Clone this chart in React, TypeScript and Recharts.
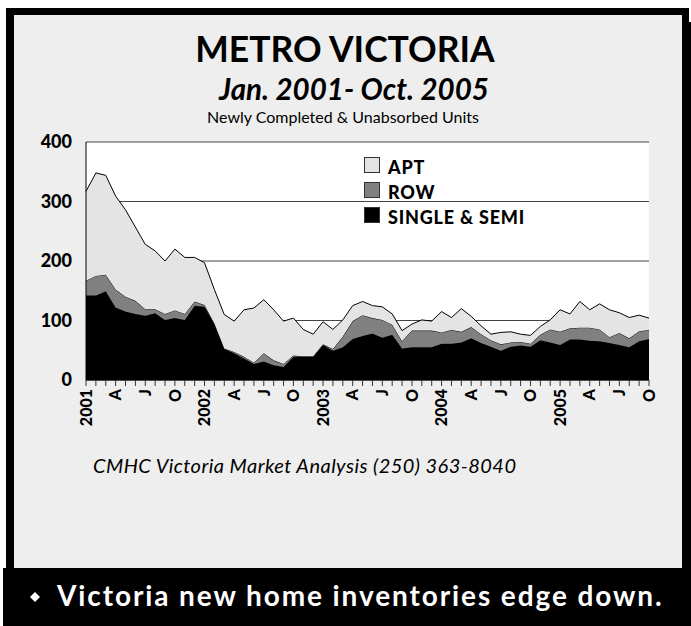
import React from "react";
import { AreaChart, Area, XAxis, YAxis, CartesianGrid } from "recharts";

// Monthly categories Jan 2001 - Oct 2005 (quarter labels shown on axis)
const categories = [
  "2001", "F", "M", "A", "M", "J", "J", "A", "S", "O", "N", "D",
  "2002", "F", "M", "A", "M", "J", "J", "A", "S", "O", "N", "D",
  "2003", "F", "M", "A", "M", "J", "J", "A", "S", "O", "N", "D",
  "2004", "F", "M", "A", "M", "J", "J", "A", "S", "O", "N", "D",
  "2005", "F", "M", "A", "M", "J", "J", "A", "S", "O",
];

const singleSemi = [
  142, 142, 149, 122, 115, 111, 108, 112, 101, 104,
  101, 125, 123, 94, 52, 45, 36, 27, 31, 25,
  22, 39, 39, 39, 59, 49, 55, 69, 74, 78,
  71, 76, 53, 55, 55, 55, 61, 61, 63, 70,
  62, 56, 49, 56, 58, 56, 67, 63, 59, 68,
  68, 66, 65, 62, 59, 55, 65, 69,
];

const row = [
  25, 33, 28, 30, 25, 22, 11, 7, 10, 13,
  10, 7, 3, 1, 1, 2, 3, 2, 14, 8,
  5, 2, 1, 1, 1, 3, 18, 30, 35, 26,
  30, 17, 12, 28, 28, 28, 19, 23, 18, 19,
  15, 11, 11, 7, 6, 5, 9, 22, 22, 19,
  20, 22, 20, 10, 20, 15, 17, 15,
];

const apt = [
  150, 173, 167, 157, 146, 124, 109, 98, 89, 103,
  95, 74, 71, 57, 57, 52, 79, 92, 90, 85,
  72, 63, 45, 37, 38, 33, 28, 26, 23, 21,
  22, 18, 18, 11, 18, 16, 35, 21, 39, 18,
  14, 10, 20, 18, 13, 14, 14, 16, 37, 24,
  44, 30, 43, 46, 34, 35, 27, 20,
];

const yTicks = [0, 100, 200, 300, 400];

const seriesKeys = ["single", "row", "apt"];
const seriesNames = ["SINGLE & SEMI", "ROW", "APT"];
const seriesColors = ["#000000", "#808080", "#e4e4e4"];

const data = categories.map((c, i) => ({
  idx: i,
  label: c,
  single: singleSemi[i],
  row: row[i],
  apt: apt[i],
}));

const allTicks = categories.map((_, i) => i);

const FONT = "Lato, 'Open Sans', sans-serif";

const XTick = (props: any) => {
  const { x, y, payload } = props;
  const i = payload.value as number;
  if (i % 3 !== 0) return <g />;
  return (
    <text
      x={x}
      y={y}
      transform={`rotate(-90, ${x}, ${y})`}
      textAnchor="end"
      dy="0.36em"
      fontFamily={FONT}
      fontWeight={900}
      fontSize={16}
      fill="#000"
    >
      {categories[i]}
    </text>
  );
};

export default function App() {
  const legendOrder = [2, 1, 0];
  return (
    <div
      style={{
        position: "absolute",
        left: 0,
        top: 0,
        width: 691,
        height: 626,
        background: "#ffffff",
        overflow: "hidden",
      }}
    >
      {/* frame */}
      <div style={{ position: "absolute", left: 6, top: 8, width: 683, height: 560, background: "#000" }} />
      <div style={{ position: "absolute", left: 682, top: 22, width: 9, height: 546, background: "#000" }} />
      <div style={{ position: "absolute", left: 14, top: 15, width: 668, height: 553, background: "#eeeeee" }} />
      <div style={{ position: "absolute", left: 3, top: 568, width: 688, height: 58, background: "#000" }} />

      <svg width={691} height={626} style={{ position: "absolute", left: 0, top: 0 }}>
        <text x={345} y={62} textAnchor="middle" fontFamily={FONT} fontWeight={700} fontSize={35.5} fill="#000">
          METRO VICTORIA
        </text>
        <text x={354} y={100} textAnchor="middle" fontFamily={FONT} fontWeight={700} fontStyle="italic" fontSize={29.5} fill="#000">
          Jan. 2001- Oct. 2005
        </text>
        <text x={343} y={123} textAnchor="middle" fontFamily={FONT} fontWeight={400} fontSize={16} fill="#000">
          Newly Completed &amp; Unabsorbed Units
        </text>
        <text x={93} y={473} fontFamily={FONT} fontWeight={400} fontStyle="italic" fontSize={20} letterSpacing={0.45} fill="#000">
          CMHC Victoria Market Analysis (250) 363-8040
        </text>
        <polygon points="35,592 40,597 35,602 30,597" fill="#fff" />
        <text x={57} y={606} fontFamily={FONT} fontWeight={700} fontSize={28} letterSpacing={1.9} fill="#fff">
          Victoria new home inventories edge down.
        </text>
      </svg>

      <div style={{ position: "absolute", left: 0, top: 0 }}>
        <AreaChart
          width={691}
          height={460}
          data={data}
          margin={{ top: 142, right: 42, bottom: 30, left: 26 }}
        >
          <CartesianGrid yAxisId="left" vertical={false} horizontal={true} fill="#ffffff" stroke="#444" strokeWidth={1} />
          <XAxis
            dataKey="idx"
            type="number"
            domain={[0, categories.length - 1]}
            ticks={allTicks}
            interval={0}
            height={50}
            tick={<XTick />}
            tickLine={{ stroke: "#333" }}
            tickSize={6}
            tickMargin={3}
            axisLine={{ stroke: "#000" }}
            allowDecimals={false}
          />
          <YAxis
            yAxisId="left"
            domain={[0, 400]}
            ticks={yTicks}
            width={60}
            tickLine={false}
            tickSize={0}
            tickMargin={14}
            axisLine={{ stroke: "#000" }}
            tick={{ fontFamily: FONT, fontWeight: 900, fontSize: 18, fill: "#000" }}
          />
          <YAxis
            yAxisId="right"
            orientation="right"
            domain={[0, 400]}
            width={0}
            tick={false}
            tickLine={false}
            axisLine={{ stroke: "#000" }}
          />
          {seriesKeys.map((k, i) => (
            <Area
              key={k}
              yAxisId="left"
              type="linear"
              dataKey={k}
              name={seriesNames[i]}
              stackId="1"
              fill={seriesColors[i]}
              fillOpacity={1}
              stroke="#000"
              strokeWidth={1}
              dot={false}
              activeDot={false}
              isAnimationActive={false}
            />
          ))}
        </AreaChart>
      </div>

      {/* legend */}
      <svg width={691} height={626} style={{ position: "absolute", left: 0, top: 0, pointerEvents: "none" }}>
        {legendOrder.map((s, k) => (
          <g key={seriesKeys[s]}>
            <rect x={364.5} y={157.5 + k * 25} width={15} height={15} fill={seriesColors[s]} stroke="#333" strokeWidth={1} />
            <text x={388} y={173.5 + k * 25} fontFamily={FONT} fontWeight={900} fontSize={18} letterSpacing={0.8} fill="#000">
              {seriesNames[s]}
            </text>
          </g>
        ))}
      </svg>
    </div>
  );
}
